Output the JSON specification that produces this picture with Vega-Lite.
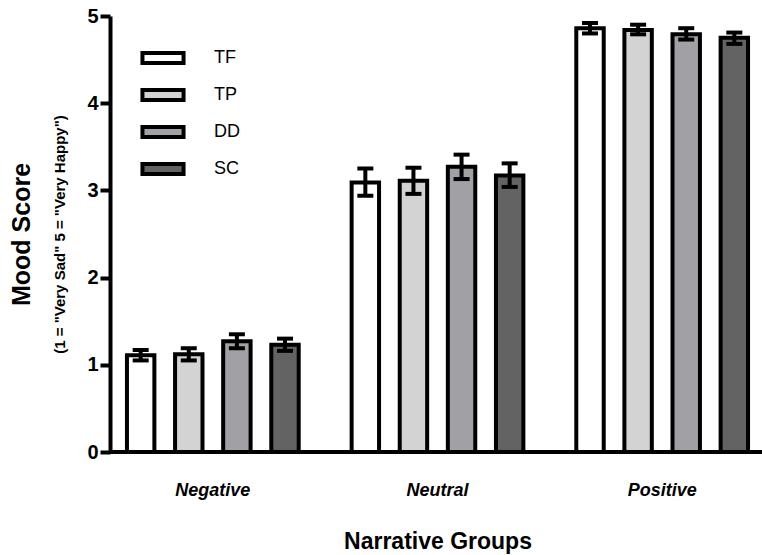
{
  "$schema": "https://vega.github.io/schema/vega-lite/v6.json",
  "width": 652,
  "height": 436,
  "autosize": {"type": "none"},
  "padding": {"left": 110, "top": 16, "right": 0, "bottom": 103},
  "background": "white",
  "config": {
    "view": {"stroke": null},
    "font": "Liberation Sans",
    "legend": {
      "orient": "none",
      "legendX": 36,
      "legendY": 25,
      "padding": 0,
      "symbolType": "M-1.37,-0.34L1.37,-0.34L1.37,0.34L-1.37,0.34Z",
      "symbolSize": 900,
      "symbolStrokeWidth": 4,
      "symbolStrokeColor": "black",
      "symbolOpacity": 1,
      "labelFont": "Liberation Sans",
      "labelFontSize": 18,
      "labelColor": "black",
      "labelOffset": 34,
      "rowPadding": 6
    }
  },
  "data": {
    "values": [
      {"group": "Negative", "cond": "TF", "mean": 1.11, "lo": 1.05, "hi": 1.17},
      {"group": "Negative", "cond": "TP", "mean": 1.12, "lo": 1.05, "hi": 1.19},
      {"group": "Negative", "cond": "DD", "mean": 1.27, "lo": 1.19, "hi": 1.35},
      {"group": "Negative", "cond": "SC", "mean": 1.23, "lo": 1.16, "hi": 1.30},
      {"group": "Neutral", "cond": "TF", "mean": 3.09, "lo": 2.94, "hi": 3.25},
      {"group": "Neutral", "cond": "TP", "mean": 3.11, "lo": 2.96, "hi": 3.26},
      {"group": "Neutral", "cond": "DD", "mean": 3.27, "lo": 3.13, "hi": 3.41},
      {"group": "Neutral", "cond": "SC", "mean": 3.17, "lo": 3.04, "hi": 3.31},
      {"group": "Positive", "cond": "TF", "mean": 4.86, "lo": 4.80, "hi": 4.92},
      {"group": "Positive", "cond": "TP", "mean": 4.84, "lo": 4.79, "hi": 4.90},
      {"group": "Positive", "cond": "DD", "mean": 4.79, "lo": 4.73, "hi": 4.86},
      {"group": "Positive", "cond": "SC", "mean": 4.75, "lo": 4.68, "hi": 4.81}
    ]
  },
  "layer": [
    {
      "encoding": {
        "x": {
          "field": "group",
          "type": "nominal",
          "sort": ["Negative", "Neutral", "Positive"],
          "scale": {"range": [-9.5, 664.5], "paddingInner": 0, "paddingOuter": 0},
          "title": "Narrative Groups",
          "axis": {
            "domain": false,
            "ticks": false,
            "labelAngle": 0,
            "labelFont": "Liberation Sans",
            "labelFontSize": 18,
            "labelFontWeight": "bold",
            "labelFontStyle": "italic",
            "labelColor": "black",
            "labelPadding": 29,
            "titleFont": "Liberation Sans",
            "titleFontSize": 23,
            "titleFontWeight": "bold",
            "titleColor": "black",
            "titlePadding": 31
          }
        },
        "xOffset": {
          "field": "cond",
          "type": "nominal",
          "sort": ["TF", "TP", "DD", "SC"],
          "scale": {"paddingInner": 0.43, "paddingOuter": 0.55}
        }
      },
      "layer": [
        {
          "mark": {"type": "bar", "stroke": "black", "strokeWidth": 4, "strokeJoin": "miter", "opacity": 1},
          "encoding": {
            "y": {
              "field": "mean",
              "type": "quantitative",
              "scale": {"domain": [0, 5]},
              "axis": {
                "orient": "left",
                "values": [0, 1, 2, 3, 4, 5],
                "format": "d",
                "grid": false,
                "domainWidth": 4,
                "domainColor": "black",
                "tickWidth": 4,
                "tickSize": 10,
                "tickColor": "black",
                "labelFont": "Liberation Sans",
                "labelFontSize": 20,
                "labelFontWeight": "bold",
                "labelColor": "black",
                "labelPadding": 2,
                "title": "(1 = \"Very Sad\" 5 = \"Very Happy\")",
                "titleFont": "Liberation Sans",
                "titleFontSize": 15,
                "titleFontWeight": "bold",
                "titleColor": "black",
                "titlePadding": 19
              }
            },
            "color": {
              "field": "cond",
              "type": "nominal",
              "sort": ["TF", "TP", "DD", "SC"],
              "scale": {"domain": ["TF", "TP", "DD", "SC"], "range": ["#ffffff", "#d3d3d3", "#a1a1a5", "#636363"]},
              "legend": {"title": null}
            }
          }
        },
        {
          "mark": {"type": "rule", "color": "black", "strokeWidth": 4},
          "encoding": {
            "y": {"field": "lo", "type": "quantitative"},
            "y2": {"field": "hi"}
          }
        },
        {
          "mark": {"type": "tick", "color": "black", "size": 16, "thickness": 4, "orient": "horizontal", "opacity": 1},
          "encoding": {"y": {"field": "hi", "type": "quantitative"}}
        },
        {
          "mark": {"type": "tick", "color": "black", "size": 16, "thickness": 4, "orient": "horizontal", "opacity": 1},
          "encoding": {"y": {"field": "lo", "type": "quantitative"}}
        }
      ]
    },
    {
      "data": {"values": [{"base": 0}]},
      "mark": {"type": "rule", "color": "black", "strokeWidth": 4},
      "encoding": {
        "y": {
          "field": "base",
          "type": "quantitative",
          "scale": {"domain": [0, 5]},
          "axis": {
            "orient": "left",
            "offset": 68,
            "domain": false,
            "ticks": false,
            "labels": false,
            "grid": false,
            "title": "Mood Score",
            "titleFont": "Liberation Sans",
            "titleFontSize": 25,
            "titleFontWeight": "bold",
            "titleColor": "black",
            "titlePadding": 8
          }
        }
      }
    }
  ],
  "resolve": {"scale": {"y": "independent"}, "axis": {"y": "independent"}}
}
